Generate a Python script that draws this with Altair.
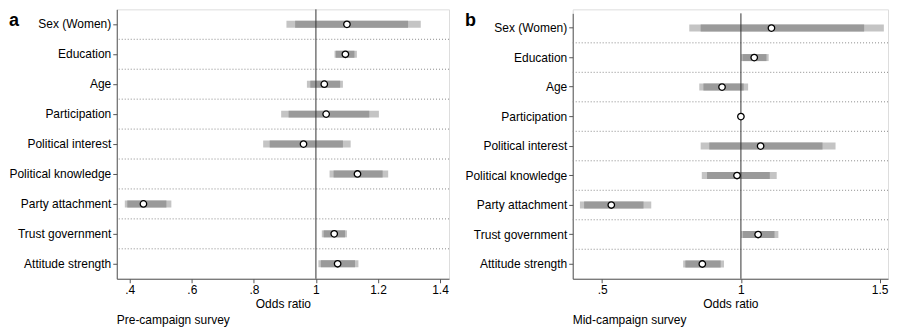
import altair as alt
import pandas as pd

variables = ["Sex (Women)", "Education", "Age", "Participation", "Political interest",
             "Political knowledge", "Party attachment", "Trust government", "Attitude strength"]

# Panel a: pre-campaign survey
a_or    = [1.100, 1.095, 1.027, 1.033, 0.960, 1.134, 0.444, 1.059, 1.070]
a_lo90  = [0.933, 1.064, 0.982, 0.912, 0.851, 1.057, 0.392, 1.025, 1.016]
a_hi90  = [1.297, 1.124, 1.078, 1.172, 1.087, 1.215, 0.518, 1.094, 1.126]
a_lo95  = [0.905, 1.060, 0.971, 0.888, 0.830, 1.044, 0.384, 1.019, 1.008]
a_hi95  = [1.338, 1.132, 1.087, 1.203, 1.112, 1.233, 0.534, 1.100, 1.137]
a_ticks = [0.4, 0.6, 0.8, 1.0, 1.2, 1.4]

# Panel b: mid-campaign survey
b_or    = [1.110, 1.048, 0.932, 1.000, 1.071, 0.986, 0.533, 1.062, 0.861]
b_lo90  = [0.855, 1.006, 0.865, 0.999, 0.886, 0.878, 0.435, 1.007, 0.800]
b_hi90  = [1.444, 1.092, 1.010, 1.001, 1.294, 1.104, 0.649, 1.121, 0.927]
b_lo95  = [0.814, 1.000, 0.850, 0.998, 0.855, 0.859, 0.420, 1.000, 0.792]
b_hi95  = [1.515, 1.100, 1.026, 1.002, 1.341, 1.129, 0.677, 1.135, 0.939]
b_ticks = [0.5, 1.0, 1.5]

FONT = "Liberation Sans"
H = 270


def tick_label_expr():
    # Stata-style labels: .4, .6, 1, 1.2
    return "datum.value < 1 ? replace(format(datum.value, '.1~f'), '0.', '.') : format(datum.value, '.1~f')"


def panel(letter, letter_y, caption, orr, lo90, hi90, lo95, hi95, domain, ticks, width, yrange_top):
    df = pd.DataFrame({"var": variables, "or": orr, "lo90": lo90, "hi90": hi90,
                       "lo95": lo95, "hi95": hi95})
    yscale = alt.Scale(domain=variables, range=[yrange_top, H], paddingInner=0, paddingOuter=0)
    xscale = alt.Scale(domain=domain, nice=False, zero=False)
    yaxis = alt.Axis(title=None, domain=True, domainColor="#555555", ticks=True,
                     tickColor="#555555", tickSize=4, labelPadding=2, grid=False,
                     labelFontSize=12, labelColor="black", labelFont=FONT)
    y = alt.Y("var:N", scale=yscale, sort=variables, axis=yaxis)
    base = alt.Chart(df)
    sep_df = pd.DataFrame({"var": variables[:-1]})
    seps = alt.Chart(sep_df).mark_rule(strokeDash=[1, 2], color="#8a8a8a", strokeWidth=1).encode(
        y=alt.Y("var:N", scale=yscale, sort=variables, bandPosition=1, axis=yaxis))
    outer = base.mark_rule(strokeWidth=7, color="#c4c4c4", strokeCap="butt").encode(
        x=alt.X("lo95:Q", scale=xscale,
                axis=alt.Axis(title="Odds ratio", values=ticks, labelExpr=tick_label_expr(),
                              grid=False, domainColor="#555555", tickColor="#555555",
                              tickSize=4, labelPadding=2, labelFontSize=12, labelColor="black",
                              labelFont=FONT, titleFont=FONT, titleFontSize=12,
                              titleFontWeight="normal", titleColor="black", titlePadding=3,
                              labelFlush=False)),
        x2="hi95:Q", y=y)
    inner = base.mark_rule(strokeWidth=7, color="#9a9a9a", strokeCap="butt").encode(
        x=alt.X("lo90:Q", scale=xscale), x2="hi90:Q", y=y)
    ref_df = pd.DataFrame({"ref": [1.0]})
    ref = alt.Chart(ref_df).mark_rule(color="#333333", strokeWidth=1).encode(
        x=alt.X("ref:Q", scale=xscale), y=alt.value(yrange_top), y2=alt.value(H))
    pts = base.mark_point(filled=True, fill="white", stroke="black", strokeWidth=1.3,
                          size=42, opacity=1).encode(
        x=alt.X("or:Q", scale=xscale), y=y)
    lab_df = pd.DataFrame({"t": [letter]})
    lab = alt.Chart(lab_df).mark_text(font=FONT, fontSize=18, fontWeight="bold", align="left",
                                      baseline="alphabetic", color="black").encode(
        text="t:N", x=alt.value(-108), y=alt.value(letter_y))
    return alt.layer(seps, outer, inner, ref, pts, lab).properties(
        width=width, height=H,
        title=alt.TitleParams(caption, orient="bottom", anchor="start", frame="group",
                              fontSize=12, fontWeight="normal", font=FONT, color="black",
                              offset=5))


pa = panel("a", 17, "Pre-campaign survey", a_or, a_lo90, a_hi90, a_lo95, a_hi95,
           [0.358, 1.429], a_ticks, 333, 0)
pb = panel("b", 17, "Mid-campaign survey", b_or, b_lo90, b_hi90, b_lo95, b_hi95,
           [0.394, 1.53], b_ticks, 316, 4)

chart = alt.hconcat(pa, pb, spacing=14).properties(
    padding={"left": 0, "top": 0, "right": 0, "bottom": 0}
).configure_view(stroke=None).configure(font=FONT, background="white")

chart.save("out.html", embed_options={"renderer": "svg", "actions": False})
